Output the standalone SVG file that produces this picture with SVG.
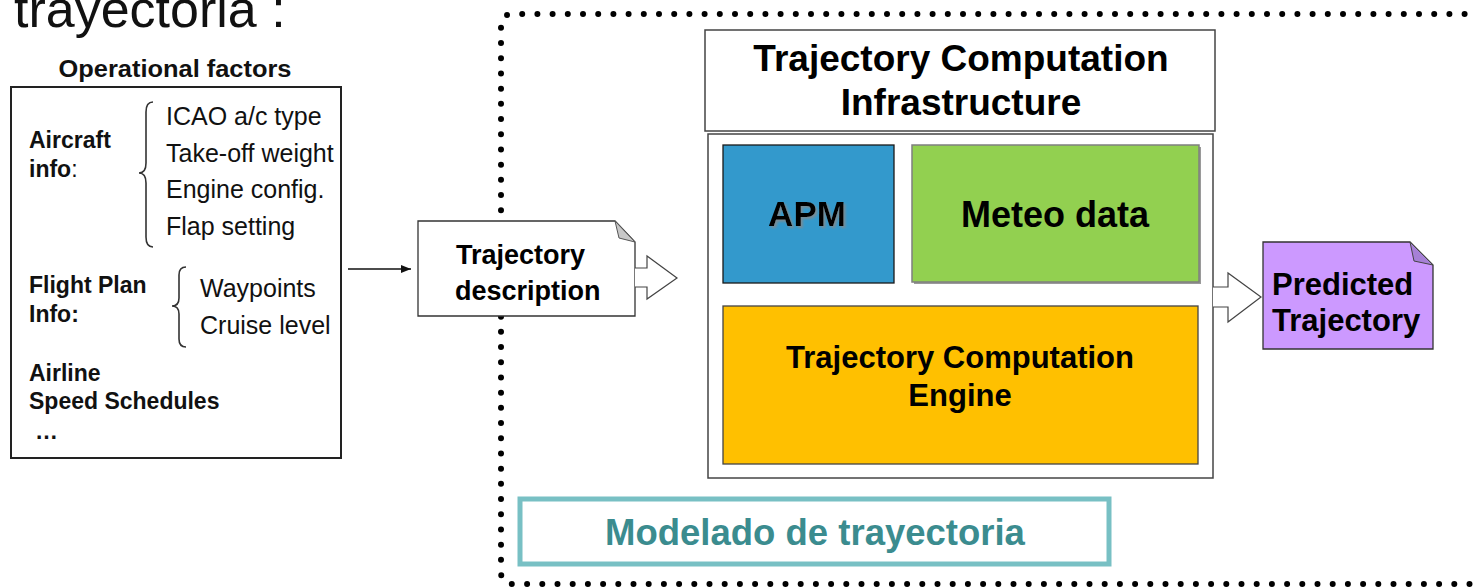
<svg xmlns="http://www.w3.org/2000/svg" width="1476" height="588" viewBox="0 0 1476 588">
  <defs>
    <style>
      .sans { font-family: "Liberation Sans", Arial, sans-serif; }
      .b { font-weight: bold; }
      .lbl { font-family: "Liberation Sans", Arial, sans-serif; font-size: 25px; fill: #111; }
      .hdr { font-family: "Liberation Sans", Arial, sans-serif; font-size: 23px; font-weight: bold; fill: #111; }
      .box { fill: #fff; stroke: #444; stroke-width: 1.5; }
      .brace { fill: none; stroke: #333; stroke-width: 1.6; }
      .blockarrow { fill: #fff; stroke: #444; stroke-width: 1.2; stroke-linejoin: miter; }
      .ctr { text-anchor: middle; }
    </style>
    <marker id="head" viewBox="0 0 10 8" refX="10" refY="4" markerWidth="10" markerHeight="8" markerUnits="userSpaceOnUse" orient="auto">
      <path d="M0,0 L10,4 L0,8 Z" fill="#111"/>
    </marker>
    <filter id="txtshadow" x="-10%" y="-10%" width="130%" height="140%">
      <feGaussianBlur in="SourceAlpha" stdDeviation="1"/>
      <feOffset dx="1.5" dy="1.5" result="o"/>
      <feFlood flood-color="#888" flood-opacity="0.8"/>
      <feComposite in2="o" operator="in"/>
      <feMerge><feMergeNode/><feMergeNode in="SourceGraphic"/></feMerge>
    </filter>
  </defs>

  <!-- page heading, partly off the top edge -->
  <text x="14" y="27" class="sans" font-size="52" fill="#111">trayectoria :</text>

  <!-- dotted boundary of the modelling area -->
  <path d="M1495,14 H513 Q501,14 501,26 V572 Q501,584 513,584 H1495" fill="none" stroke="#000" stroke-width="6" stroke-linecap="round" stroke-dasharray="0 15.2"/>

  <!-- operational factors panel -->
  <g id="operational-factors">
    <text x="175" y="77" class="hdr ctr" textLength="233" lengthAdjust="spacingAndGlyphs">Operational factors</text>
    <rect x="11" y="87" width="330" height="371" fill="#fff" stroke="#222" stroke-width="2"/>
    <text x="29" y="148" class="hdr">Aircraft</text>
    <text x="29" y="177" class="hdr">info<tspan font-weight="normal">:</tspan></text>
    <path class="brace" d="M153,102 Q146,102 146,112 V163 Q146,173 139,173 Q146,173 146,183 V237 Q146,247 153,247"/>
    <text x="166" y="125" class="lbl">ICAO a/c type</text>
    <text x="166" y="162" class="lbl">Take-off weight</text>
    <text x="166" y="198" class="lbl">Engine config.</text>
    <text x="166" y="235" class="lbl">Flap setting</text>
    <text x="29" y="293" class="hdr">Flight Plan</text>
    <text x="29" y="322" class="hdr">Info:</text>
    <path class="brace" d="M186,267 Q179,267 179,275 V298 Q179,306 172,306 Q179,306 179,314 V339 Q179,347 186,347"/>
    <text x="200" y="297" class="lbl">Waypoints</text>
    <text x="200" y="334" class="lbl">Cruise level</text>
    <text x="29" y="381" class="hdr">Airline</text>
    <text x="29" y="409" class="hdr">Speed Schedules</text>
    <text x="35" y="439" class="hdr">…</text>
  </g>

  <!-- trajectory description document -->
  <g id="trajectory-description">
    <path d="M418,221 H615 L635,242 V316 H418 Z" fill="#fff" stroke="#333" stroke-width="1.3"/>
    <path d="M615,221 L635,242 L619,238 Z" fill="#c8c8c8" stroke="#555" stroke-width="1"/>
    <text x="456" y="264" class="sans b" font-size="27" fill="#000">Trajectory</text>
    <text x="455" y="300" class="sans b" font-size="27" fill="#000">description</text>
  </g>

  <!-- trajectory computation infrastructure -->
  <g id="tc-infrastructure">
    <rect x="705" y="30" width="510" height="101" class="box"/>
    <text x="961" y="71" class="sans b ctr" font-size="37" fill="#000">Trajectory Computation</text>
    <text x="961" y="115" class="sans b ctr" font-size="37" fill="#000">Infrastructure</text>
    <rect x="708" y="134" width="505" height="344" class="box"/>
  </g>

  <g id="apm">
    <rect x="723" y="145" width="171" height="138" fill="#3399cc" stroke="#1a1a1a" stroke-width="1.3"/>
    <text x="807" y="226" class="sans b ctr" font-size="35" fill="#000" filter="url(#txtshadow)">APM</text>
  </g>

  <g id="meteo-data">
    <rect x="914" y="147" width="287" height="137" fill="#9a9a9a"/>
    <rect x="912" y="145" width="287" height="137" fill="#92d050" stroke="#7f7f7f" stroke-width="1.5"/>
    <text x="1055" y="227" class="sans b ctr" font-size="36" fill="#000">Meteo data</text>
  </g>

  <g id="tc-engine">
    <rect x="723" y="306" width="475" height="158" fill="#ffc000" stroke="#444" stroke-width="1.3"/>
    <text x="960" y="368" class="sans b ctr" font-size="31" fill="#000">Trajectory Computation</text>
    <text x="960" y="406" class="sans b ctr" font-size="31" fill="#000">Engine</text>
  </g>

  <!-- predicted trajectory document -->
  <g id="predicted-trajectory">
    <path d="M1263,242 H1410 L1433,265 V349 H1263 Z" fill="#cc99ff" stroke="#333" stroke-width="1.3"/>
    <path d="M1410,242 L1433,265 L1414,261 Z" fill="#a680d6" stroke="#444" stroke-width="1"/>
    <text x="1272" y="295" class="sans b" font-size="31" fill="#000">Predicted</text>
    <text x="1272" y="331" class="sans b" font-size="31" fill="#000">Trajectory</text>
  </g>

  <g id="modelado">
    <rect x="520" y="499" width="589" height="65" fill="#fff" stroke="#78c0c4" stroke-width="5"/>
    <text x="815" y="545" class="sans b ctr" font-size="36.5" fill="#3b8c8f">Modelado de trayectoria</text>
  </g>

  <!-- connectors -->
  <g id="connectors">
    <line x1="348" y1="269" x2="411" y2="269" stroke="#111" stroke-width="1.3" marker-end="url(#head)"/>
    <path class="blockarrow" d="M635,268 H647 V256 L677,278 L647,299 V287 H635"/>
    <path class="blockarrow" d="M1213,287 H1228 V273 L1261,297 L1228,322 V307 H1213"/>
  </g>
</svg>
